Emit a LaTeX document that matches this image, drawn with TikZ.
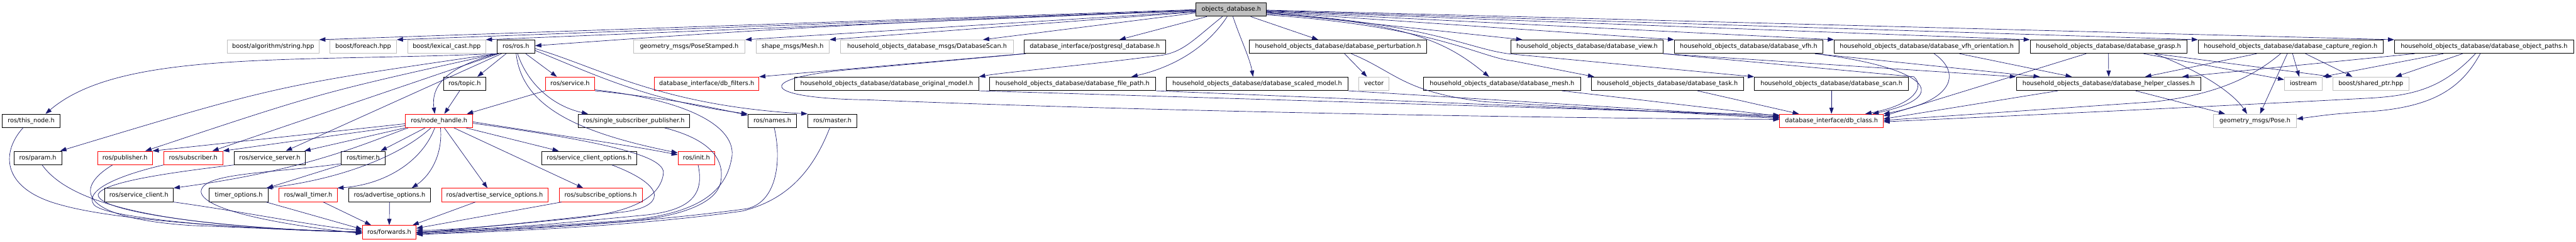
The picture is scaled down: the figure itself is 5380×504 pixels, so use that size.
\documentclass[tikz,border=0pt]{standalone}
\usepackage{fontspec}
\setmainfont{DejaVu Sans}
\usetikzlibrary{arrows.meta}
\definecolor{edgeblue}{HTML}{191970}
\definecolor{boxgray}{HTML}{BFBFBF}
\newcommand{\dfont}{\fontsize{12.8pt}{15pt}\selectfont}
\tikzset{
  box/.style={rectangle, draw, line width=1.2pt, minimum height=28pt, inner sep=0pt, font=\dfont, text height=9.6pt, text depth=2.6pt},
  bb/.style={box, draw=black},
  rb/.style={box, draw=red},
  gb/.style={box, draw=boxgray},
  rootb/.style={box, draw=black, fill=boxgray},
  lnk/.style={draw=edgeblue, line width=0.9pt, -{Triangle[length=13pt,width=9pt]}}
}
\begin{document}
\begin{tikzpicture}[x=1pt,y=-1pt]
\useasboundingbox (0,0) rectangle (5380,504);
% row 0
\node[rootb, minimum width=147pt] (od) at (2571.5,20) {objects\_database.h};
% row 1
\node[gb, minimum width=191pt] (bas) at (570.5,97.3) {boost/algorithm/string.hpp};
\node[gb, minimum width=139pt] (bfe) at (758.5,97.3) {boost/foreach.hpp};
\node[gb, minimum width=162pt] (blc) at (933,97.3) {boost/lexical\_cast.hpp};
\node[bb, minimum width=79pt] (rosh) at (1077.5,97.3) {ros/ros.h};
\node[gb, minimum width=233pt] (gps) at (1439.5,97.3) {geometry\_msgs/PoseStamped.h};
\node[gb, minimum width=153pt] (smm) at (1655.5,97.3) {shape\_msgs/Mesh.h};
\node[gb, minimum width=360pt] (dbs) at (1936,97.3) {household\_objects\_database\_msgs/DatabaseScan.h};
\node[bb, minimum width=295pt] (pgd) at (2286.5,97.3) {database\_interface/postgresql\_database.h};
\node[bb, minimum width=371pt] (pert) at (2794.5,97.3) {household\_objects\_database/database\_perturbation.h};
\node[bb, minimum width=317pt] (view) at (3314.5,97.3) {household\_objects\_database/database\_view.h};
\node[bb, minimum width=310pt] (vfh) at (3652,97.3) {household\_objects\_database/database\_vfh.h};
\node[bb, minimum width=386pt] (vfho) at (4024,97.3) {household\_objects\_database/database\_vfh\_orientation.h};
\node[bb, minimum width=327pt] (grasp) at (4403.5,97.3) {household\_objects\_database/database\_grasp.h};
\node[bb, minimum width=386pt] (capt) at (4784,97.3) {household\_objects\_database/database\_capture\_region.h};
\node[bb, minimum width=374pt] (objp) at (5188,97.3) {household\_objects\_database/database\_object\_paths.h};
% row 2
\node[bb, minimum width=89pt] (topic) at (970.5,174.6) {ros/topic.h};
\node[rb, minimum width=103pt] (service) at (1190.5,174.6) {ros/service.h};
\node[rb, minimum width=218pt] (dbf) at (1476,174.6) {database\_interface/db\_filters.h};
\node[bb, minimum width=384pt] (orig) at (1852,174.6) {household\_objects\_database/database\_original\_model.h};
\node[bb, minimum width=346pt] (fpath) at (2240,174.6) {household\_objects\_database/database\_file\_path.h};
\node[bb, minimum width=379pt] (scaled) at (2625.5,174.6) {household\_objects\_database/database\_scaled\_model.h};
\node[gb, minimum width=63pt] (vector) at (2869.5,174.6) {vector};
\node[bb, minimum width=328pt] (mesh) at (3137,174.6) {household\_objects\_database/database\_mesh.h};
\node[bb, minimum width=319pt] (task) at (3482.5,174.6) {household\_objects\_database/database\_task.h};
\node[bb, minimum width=322pt] (scan) at (3825,174.6) {household\_objects\_database/database\_scan.h};
\node[bb, minimum width=386pt] (helper) at (4404,174.6) {household\_objects\_database/database\_helper\_classes.h};
\node[gb, minimum width=79pt] (iostream) at (4810.5,174.6) {iostream};
\node[gb, minimum width=159pt] (bsp) at (4951.5,174.6) {boost/shared\_ptr.hpp};
% row 3
\node[bb, minimum width=120pt] (thisnode) at (65,251.9) {ros/this\_node.h};
\node[rb, minimum width=140pt] (nh) at (917,251.9) {ros/node\_handle.h};
\node[bb, minimum width=232pt] (ssp) at (1324,251.9) {ros/single\_subscriber\_publisher.h};
\node[bb, minimum width=102pt] (names) at (1613,251.9) {ros/names.h};
\node[bb, minimum width=103pt] (master) at (1738.5,251.9) {ros/master.h};
\node[rb, minimum width=216pt] (dbc) at (3825,251.9) {database\_interface/db\_class.h};
\node[gb, minimum width=173pt] (pose) at (4709.5,251.9) {geometry\_msgs/Pose.h};
% row 4
\node[bb, minimum width=100pt] (param) at (79,329.2) {ros/param.h};
\node[rb, minimum width=114pt] (pub) at (261,329.2) {ros/publisher.h};
\node[rb, minimum width=123pt] (sub) at (403.5,329.2) {ros/subscriber.h};
\node[bb, minimum width=149pt] (ssrv) at (563.5,329.2) {ros/service\_server.h};
\node[bb, minimum width=91pt] (timer) at (758.5,329.2) {ros/timer.h};
\node[bb, minimum width=199pt] (sco) at (1230.5,329.2) {ros/service\_client\_options.h};
\node[rb, minimum width=77pt] (init) at (1454.5,329.2) {ros/init.h};
% row 5
\node[bb, minimum width=144pt] (sc) at (290,406.5) {ros/service\_client.h};
\node[bb, minimum width=123pt] (to) at (498.5,406.5) {timer\_options.h};
\node[rb, minimum width=121pt] (wt) at (643.5,406.5) {ros/wall\_timer.h};
\node[bb, minimum width=171pt] (ao) at (813.5,406.5) {ros/advertise\_options.h};
\node[rb, minimum width=222pt] (aso) at (1033,406.5) {ros/advertise\_service\_options.h};
\node[rb, minimum width=173pt] (so) at (1254.5,406.5) {ros/subscribe\_options.h};
% row 6
\node[rb, minimum width=112pt] (fwd) at (813,483.8) {ros/forwards.h};

% ---- edges from objects_database.h (left)
\draw[lnk] (od.west) -- (bas.north east);
\draw[lnk] ([yshift=-1]od.west) -- (bfe.north east);
\draw[lnk] ([yshift=-2]od.west) -- (blc.north east);
\draw[lnk] ([yshift=-3]od.west) .. controls (1800,45) and (1400,75) .. ([yshift=2]rosh.east);
\draw[lnk] ([yshift=-4]od.west) -- (gps.north east);
\draw[lnk] ([yshift=-5]od.west) -- (smm.north east);
\draw[lnk] ([yshift=-7]od.west) -- ([xshift=117]dbs.north);
\draw[lnk] ([xshift=-51]od.south) -- ([xshift=51.5]pgd.north);
\draw[lnk] ([xshift=-18.5]od.south) .. controls (2490,85) and (2470,110) .. (2420,116) .. controls (2250,138) and (2100,150) .. (orig.north east);
\draw[lnk] ([xshift=-8.5]od.south) .. controls (2520,100) and (2450,140) .. ([xshift=123]fpath.north);
\draw[lnk] ([xshift=3.5]od.south) .. controls (2590,80) and (2610,120) .. ([xshift=-8.5]scaled.north);
\draw[lnk] ([xshift=40.5]od.south) -- ([xshift=-41.5]pert.north);
% ---- edges from objects_database.h (right)
\draw[lnk] ([yshift=-6]od.east) -- ([xshift=24]view.north west);
\draw[lnk] ([yshift=-5]od.east) -- (vfh.north west);
\draw[lnk] ([yshift=-4]od.east) -- (vfho.north west);
\draw[lnk] ([yshift=-3]od.east) -- (grasp.north west);
\draw[lnk] ([yshift=-2]od.east) -- (capt.north west);
\draw[lnk] ([yshift=-1]od.east) -- (objp.north west);
\draw[lnk] ([yshift=-9]od.east) .. controls (2950,45) and (3030,95) .. ([xshift=-27]mesh.north);
\draw[lnk] ([yshift=-11]od.east) .. controls (3000,55) and (3090,120) .. (3160,127) -- ([xshift=7]task.north west);
\draw[lnk] ([yshift=-7]od.east) .. controls (3000,50) and (3070,105) .. (3160,113) -- (scan.north west);

% ---- ros/ros.h
\draw[lnk] (rosh.south west) .. controls (600,130) and (250,105) .. ([xshift=30]thisnode.north);
\draw[lnk] (rosh.south west) .. controls (580,178) .. ([xshift=-4]param.north east);
\draw[lnk] (rosh.south west) .. controls (670,193) .. ([xshift=-15]pub.north east);
\draw[lnk] ([xshift=4]rosh.south west) -- ([xshift=-22]sub.north east);
\draw[lnk] ([xshift=10]rosh.south west) -- ([xshift=33.5]ssrv.north);
\draw[lnk] ([xshift=2]rosh.south west) .. controls (930,140) and (900,180) .. ([xshift=-9]nh.north);
\draw[lnk] ([xshift=-20.5]rosh.south) -- ([xshift=26.5]topic.north);
\draw[lnk] ([xshift=20.5]rosh.south) -- ([xshift=-27.5]service.north);
\draw[lnk] ([xshift=3.5]rosh.south) .. controls (1100,170) and (1150,220) .. ([xshift=-96]ssp.north);
\draw[lnk] ([xshift=0.5]rosh.south) .. controls (1090,220) and (1200,275) .. ([yshift=-4]init.north west);
\draw[lnk] ([yshift=-8]rosh.east) .. controls (1230,150) and (1350,210) .. (names.north west);
\draw[lnk] ([yshift=-4]rosh.east) .. controls (1250,140) and (1380,220) .. (master.north west);
% ---- ros/service.h, ros/topic.h
\draw[lnk] (service.south east) .. controls (1350,200) and (1450,215) .. ([yshift=-3]names.north west);
\draw[lnk] (service.south west) -- ([xshift=58]nh.north);
\draw[lnk] ([yshift=2]service.south east) .. controls (1450,210) and (1545,270) .. (1527,335) .. controls (1510,420) and (1420,450) .. (1300,460) .. controls (1100,474) and (950,481) .. (fwd.east);
\draw[lnk] ([xshift=-10.5]topic.south) -- ([xshift=11]nh.north);
% ---- ros/node_handle.h
\draw[lnk] ([yshift=-6]nh.west) -- (pub.north east);
\draw[lnk] ([yshift=-10]nh.west) -- (sub.north east);
\draw[lnk] (nh.south west) -- ([xshift=-3]ssrv.north east);
\draw[lnk] ([xshift=6]nh.south west) .. controls (760,300) and (640,355) .. (sc.north east);
\draw[lnk] ([xshift=-29]nh.south) -- ([xshift=36.5]timer.north);
\draw[lnk] ([xshift=-17]nh.south) .. controls (830,330) and (700,375) .. ([xshift=-5]to.north east);
\draw[lnk] ([xshift=-9]nh.south) .. controls (880,340) and (800,385) .. (wt.north east);
\draw[lnk] ([xshift=3]nh.south) .. controls (925,320) and (900,365) .. ([xshift=46.5]ao.north);
\draw[lnk] ([xshift=11]nh.south) -- ([xshift=-15]aso.north);
\draw[lnk] ([xshift=31]nh.south) -- ([xshift=-36.5]so.north);
\draw[lnk] ([xshift=56]nh.south) -- ([xshift=-63.5]sco.north);
\draw[lnk] ([yshift=-2]nh.east) .. controls (1150,280) and (1300,300) .. ([yshift=-8]init.north west);
\draw[lnk] ([yshift=-5]nh.east) .. controls (1300,300) and (1395,330) .. (1385,365) .. controls (1375,420) and (1300,445) .. (1200,455) .. controls (1050,470) and (950,478) .. ([yshift=-2]fwd.east);
% ---- into ros/forwards.h
\draw[lnk] ([xshift=-17]thisnode.south) .. controls (0,320) and (5,395) .. (127,427) .. controls (250,462) and (550,478) .. (fwd.west);
\draw[lnk] ([xshift=9]param.south) .. controls (150,430) and (350,472) .. (fwd.west);
\draw[lnk] ([xshift=-26]pub.south) .. controls (150,395) and (170,455) .. (400,470) .. controls (600,478) .. (fwd.west);
\draw[lnk] (sub.south west) .. controls (230,370) and (180,400) .. (195,425) .. controls (210,455) and (500,478) .. (fwd.west);
\draw[lnk] (ssrv.south west) .. controls (350,360) and (215,380) .. (205,405) .. controls (200,445) and (500,478) .. (fwd.west);
\draw[lnk] (sc.south east) .. controls (500,440) and (650,470) .. ([yshift=3]fwd.west);
\draw[lnk] ([xshift=-5]to.south east) -- ([yshift=6]fwd.west);
\draw[lnk] ([xshift=31.5]wt.south) -- ([xshift=-38]fwd.north);
\draw[lnk] (ao.south) -- (fwd.north);
\draw[lnk] ([xshift=-40]aso.south) -- ([xshift=-8]fwd.north east);
\draw[lnk] ([xshift=-81.5]so.south) -- ([yshift=8]fwd.east);
\draw[lnk] ([xshift=47.5]sco.south) .. controls (1400,390) and (1385,432) .. (1300,442) .. controls (1100,465) and (950,480) .. ([yshift=4]fwd.east);
\draw[lnk] ([xshift=3.5]init.south) .. controls (1470,400) and (1450,437) .. (1350,448) .. controls (1100,472) .. (fwd.east);
\draw[lnk] ([xshift=64]ssp.south) .. controls (1480,290) and (1515,330) .. (1505,380) .. controls (1495,430) and (1400,455) .. (1300,462) .. controls (1100,476) .. ([yshift=-2]fwd.east);
\draw[lnk] ([xshift=4]names.south) .. controls (1632,330) and (1625,420) .. (1560,435) .. controls (1300,470) and (1000,482) .. ([yshift=-4]fwd.east);
\draw[lnk] ([xshift=-5.5]master.south) .. controls (1700,350) and (1650,415) .. (1550,440) .. controls (1300,475) and (1000,484) .. ([yshift=-5]fwd.east);
\draw[lnk] ([yshift=-12]timer.west) .. controls (560,362) and (420,360) .. (420,400) .. controls (425,440) and (600,470) .. ([yshift=-3]fwd.west);
\draw[lnk] (timer.south west) -- ([xshift=-3]to.north east);

% ---- database side
\draw[lnk] (pgd.south west) -- (dbf.north east);
\draw[lnk] ([xshift=4]pgd.south west) -- (1800,143) .. controls (1570,160) and (1580,205) .. (1810,208) .. controls (2400,232) and (3200,246) .. ([yshift=3]dbc.west);
\draw[lnk] (orig.south east) -- ([yshift=12]dbc.west);
\draw[lnk] (fpath.south east) -- ([yshift=9]dbc.west);
\draw[lnk] (scaled.south east) -- ([yshift=7]dbc.west);
\draw[lnk] ([xshift=27.5]pert.south) .. controls (2915,150) and (2930,192) .. (3100,212) -- ([yshift=5]dbc.west);
\draw[lnk] ([xshift=13.5]pert.south) -- ([xshift=-14.5]vector.north);
\draw[lnk] ([xshift=125]mesh.south) -- ([yshift=10]dbc.west);
\draw[lnk] ([xshift=62.5]task.south) -- ([xshift=-68]dbc.north);
\draw[lnk] (scan.south) -- (dbc.north);
\draw[lnk] (view.south east) -- (3997,160) .. controls (4020,180) and (4000,218) .. ([xshift=-38]dbc.north east);
\draw[lnk] (view.south east) -- (helper.north west);
\draw[lnk] ([xshift=-17]vfh.south east) .. controls (4020,140) and (4085,200) .. ([xshift=-23]dbc.north east);
\draw[lnk] ([xshift=-17]vfh.south east) -- ([xshift=-144]helper.north);
\draw[lnk] ([xshift=209]vfho.south west) .. controls (4095,150) and (4085,210) .. (dbc.north east);
\draw[lnk] ([xshift=262]vfho.south west) -- ([xshift=-77]helper.north);
\draw[lnk] (grasp.south) -- (helper.north);
\draw[lnk] ([xshift=-46.5]grasp.south) -- ([yshift=10]dbc.east);
\draw[lnk] ([xshift=73.5]grasp.south) -- ([yshift=-6]iostream.north west);
\draw[lnk] ([xshift=96.5]grasp.south) -- (bsp.north west);
\draw[lnk] ([xshift=96.5]grasp.south) .. controls (4600,150) and (4665,195) .. ([xshift=-16.5]pose.north);
\draw[lnk] ([xshift=-106]helper.south) -- ([yshift=4]dbc.east);
\draw[lnk] ([xshift=56]helper.south) -- ([xshift=-62.5]pose.north);
\draw[lnk] ([xshift=-71]capt.south) -- ([xshift=76]helper.north);
\draw[lnk] ([xshift=-21]capt.south) .. controls (4700,165) and (4620,198) .. (4500,212) -- ([yshift=1]dbc.east);
\draw[lnk] ([xshift=4]capt.south) -- ([xshift=-8.5]iostream.north);
\draw[lnk] ([xshift=31]capt.south) -- ([xshift=-38.5]bsp.north);
\draw[lnk] ([xshift=-7]capt.south) -- ([xshift=10.5]pose.north);
\draw[lnk] ([xshift=-145]objp.south) -- ([xshift=-40]helper.north east);
\draw[lnk] ([xshift=-85]objp.south) -- (iostream.north east);
\draw[lnk] ([xshift=-45]objp.south) -- ([xshift=51.5]bsp.north);
\draw[lnk] ([xshift=-18]objp.south) .. controls (5100,185) and (5040,200) .. (4940,205) .. controls (4500,228) and (4100,246) .. ([yshift=-2]dbc.east);
\draw[lnk] ([xshift=-8]objp.south) .. controls (5140,185) and (5080,225) .. (4940,233) .. controls (4870,238) .. ([yshift=4]pose.east);
\end{tikzpicture}
\end{document}
